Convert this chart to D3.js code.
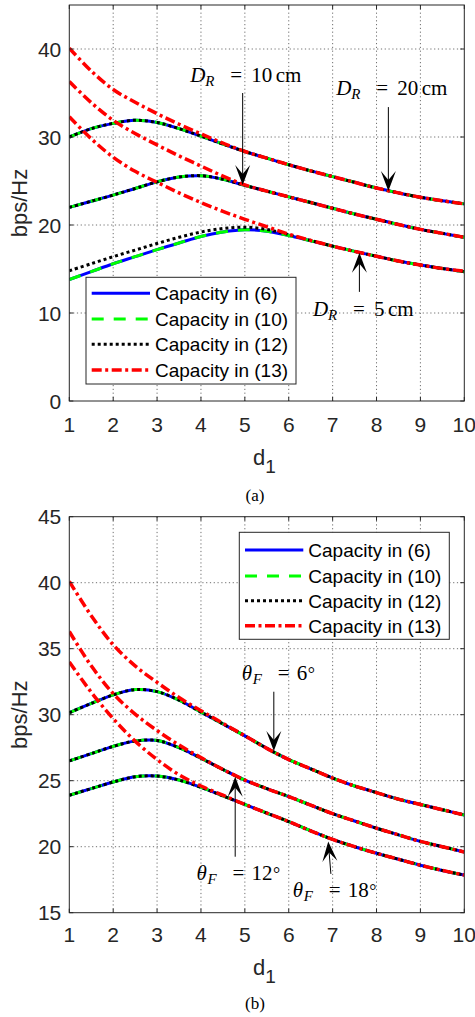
<!DOCTYPE html>
<html>
<head>
<meta charset="utf-8">
<script src="https://cdn.jsdelivr.net/npm/d3@7"></script>
<style>
  html, body { margin: 0; padding: 0; background: #fff; }
  svg { display: block; }
</style>
</head>
<body>
<svg id="fig" width="475" height="1017"></svg>
<script>
// ---- data ---------------------------------------------------------------
const d1 = [1, 1.5, 2, 2.5, 3, 3.5, 4, 4.5, 5, 5.5, 6, 6.5, 7, 7.5, 8, 8.5, 9, 9.5, 10];
const xTickValues = [1, 2, 3, 4, 5, 6, 7, 8, 9, 10];
const yTickValuesA = [0, 10, 20, 30, 40];
const yTickValuesB = [15, 20, 25, 30, 35, 40, 45];
const legendLabels = ["Capacity in (6)", "Capacity in (10)", "Capacity in (12)", "Capacity in (13)"];

// (a) varying D_R : 20 cm, 10 cm, 5 cm
const capA_DR20 = [30.0, 30.95, 31.55, 31.9, 31.65, 30.95, 30.1, 29.2, 28.35, 27.6, 26.85, 26.15, 25.5, 24.85, 24.2, 23.65, 23.15, 22.75, 22.4];
const capA_DR10 = [22.0, 22.7, 23.4, 24.15, 24.9, 25.45, 25.6, 25.2, 24.5, 23.85, 23.2, 22.55, 21.9, 21.25, 20.65, 20.05, 19.5, 19.05, 18.6];
const capA_DR5  = [13.8, 14.7, 15.6, 16.4, 17.2, 17.95, 18.7, 19.2, 19.45, 19.3, 18.8, 18.2, 17.6, 17.0, 16.45, 15.9, 15.45, 15.05, 14.7];
const cap12A_DR5 = [14.8, 15.6, 16.4, 17.15, 17.9, 18.6, 19.2, 19.6, 19.75, 19.5, 18.9, 18.25, 17.6, 17.0, 16.45, 15.9, 15.45, 15.05, 14.7];
const cap13A_DR20 = [40.1, 37.5, 35.4, 33.95, 32.65, 31.45, 30.35, 29.3, 28.35, 27.6, 26.85, 26.15, 25.5, 24.85, 24.2, 23.65, 23.15, 22.75, 22.4];
const cap13A_DR10 = [36.3, 33.9, 31.9, 30.4, 29.1, 27.85, 26.7, 25.55, 24.55, 23.85, 23.2, 22.55, 21.9, 21.25, 20.65, 20.05, 19.5, 19.05, 18.6];
const cap13A_DR5  = [32.3, 29.8, 27.7, 26.1, 24.85, 23.65, 22.55, 21.55, 20.65, 19.8, 18.95, 18.25, 17.6, 17.0, 16.45, 15.9, 15.45, 15.05, 14.75];

// (b) varying theta_F : 6, 12, 18 degrees
const capB_T6  = [30.15, 30.85, 31.5, 31.9, 31.75, 31.1, 30.2, 29.3, 28.4, 27.45, 26.6, 25.9, 25.2, 24.6, 24.1, 23.6, 23.2, 22.8, 22.4];
const capB_T12 = [26.5, 27.05, 27.6, 28.0, 28.05, 27.5, 26.7, 25.85, 25.05, 24.4, 23.8, 23.15, 22.5, 21.95, 21.4, 20.9, 20.4, 20.0, 19.6];
const capB_T18 = [23.9, 24.4, 24.9, 25.3, 25.35, 25.05, 24.5, 23.85, 23.2, 22.55, 21.9, 21.2, 20.55, 20.0, 19.5, 19.05, 18.6, 18.2, 17.85];
const cap13B_T6  = [40.1, 37.5, 35.3, 33.7, 32.45, 31.3, 30.3, 29.35, 28.4, 27.45, 26.6, 25.9, 25.2, 24.6, 24.1, 23.6, 23.2, 22.8, 22.4];
const cap13B_T12 = [36.3, 33.7, 31.6, 30.05, 28.8, 27.7, 26.75, 25.85, 25.05, 24.4, 23.8, 23.15, 22.5, 21.95, 21.4, 20.9, 20.4, 20.0, 19.6];
const cap13B_T18 = [34.0, 31.7, 29.7, 28.0, 26.6, 25.45, 24.6, 23.9, 23.2, 22.55, 21.9, 21.2, 20.55, 20.0, 19.5, 19.05, 18.6, 18.2, 17.85];

// ---- styles ---------------------------------------------------------------
const lineStyles = [
  { color: "#0000ff", width: 3,   dash: null },           // (6)  solid
  { color: "#00ff00", width: 3,   dash: "12,10" },        // (10) dashed
  { color: "#000000", width: 3,   dash: "3,3" },          // (12) dotted
  { color: "#ff0000", width: 3.5, dash: "10,3.5,3,3.5" }  // (13) dash-dot
];
const axisColor = "#262626";
const sans = "'Liberation Sans', Arial, Helvetica, sans-serif";
const serif = "'Liberation Serif', 'Times New Roman', serif";

const plotLeft = 69.3, plotRight = 464.3;
const x = d3.scaleLinear().domain([1, 10]).range([plotLeft, plotRight]);

const panels = [
  {
    id: "a", top: 5, bottom: 401, yDomain: [0, 45], yTicks: yTickValuesA,
    // each group lists curves for (6), (10), (12), (13)
    groups: [
      [capA_DR20, capA_DR20, capA_DR20, cap13A_DR20],
      [capA_DR10, capA_DR10, capA_DR10, cap13A_DR10],
      [capA_DR5,  capA_DR5,  cap12A_DR5, cap13A_DR5]
    ],
    legend: { x0: 86, y0: 277.3, x1: 296, y1: 384, rows: [293.3, 319, 344.3, 370], lx0: 91.7, lx1: 150, tx: 155 },
    notes: [
      { sym: "D", sub: "R", val: "10", unit: "cm", tx: 3.755, ty: 36.3, tail: [4.95, 35.0], tip: [4.95, 24.55] },
      { sym: "D", sub: "R", val: "20", unit: "cm", tx: 7.08,  ty: 34.8, tail: [8.27, 33.4], tip: [8.27, 23.85] },
      { sym: "D", sub: "R", val: "5",  unit: "cm", tx: 6.55,  ty: 9.7,  tail: [7.61, 12.4], tip: [7.61, 16.85] }
    ],
    caption: "(a)", captionY: 501, xlabY: 465, xtickY: 432
  },
  {
    id: "b", top: 516.7, bottom: 912.7, yDomain: [15, 45], yTicks: yTickValuesB,
    groups: [
      [capB_T6,  capB_T6,  capB_T6,  cap13B_T6],
      [capB_T12, capB_T12, capB_T12, cap13B_T12],
      [capB_T18, capB_T18, capB_T18, cap13B_T18]
    ],
    legend: { x0: 239.3, y0: 532.3, x1: 449.3, y1: 639.3, rows: [550, 576, 600.7, 625.7], lx0: 245, lx1: 303.3, tx: 308.3 },
    notes: [
      { sym: "θ", sub: "F", val: "6",  unit: "°", tx: 4.93, ty: 32.65, tail: [5.66, 31.74], tip: [5.66, 27.25] },
      { sym: "θ", sub: "F", val: "12", unit: "°", tx: 3.90, ty: 17.48, tail: [4.78, 19.24], tip: [4.78, 25.3] },
      { sym: "θ", sub: "F", val: "18", unit: "°", tx: 6.09, ty: 16.2,  tail: [6.96, 17.94], tip: [6.9, 20.4] }
    ],
    caption: "(b)", captionY: 1009, xlabY: 975, xtickY: 942
  }
];

const svg = d3.select("#fig");
svg.append("rect").attr("width", 475).attr("height", 1017).attr("fill", "#fff");

function drawArrow(g, x0, y0, x1, y1) {
  const L = 20, hw = 7.5, notch = 11;
  const ang = Math.atan2(y1 - y0, x1 - x0);
  const nx = x1 - notch * Math.cos(ang), ny = y1 - notch * Math.sin(ang);
  g.append("line").attr("x1", x0).attr("y1", y0).attr("x2", nx).attr("y2", ny)
    .attr("stroke", "#000").attr("stroke-width", 1);
  g.append("path")
    .attr("d", `M0,0 L${-L},${-hw} L${-notch},0 L${-L},${hw} Z`)
    .attr("transform", `translate(${x1},${y1}) rotate(${ang * 180 / Math.PI})`)
    .attr("fill", "#000");
}

function drawNote(g, y, n) {
  const left = x(n.tx), base = y(n.ty);
  const isD = n.sym === "D";
  const t = g.append("text").attr("font-family", serif).attr("font-size", 21).attr("fill", "#000")
    .attr("y", base).style("white-space", "pre");
  const digitsW = n.val.length * 10.5;
  t.append("tspan").attr("x", left).attr("font-style", "italic").text(n.sym);
  t.append("tspan").attr("x", left + (isD ? 15 : 11)).attr("y", base + 4)
    .attr("font-style", "italic").attr("font-size", 15).text(n.sub);
  t.append("tspan").attr("x", left + (isD ? 40 : 36)).attr("y", base).text("=");
  const valX = left + (isD ? 61 : 55);
  t.append("tspan").attr("x", valX).attr("y", base).text(n.val);
  if (n.unit === "cm") {
    t.append("tspan").attr("x", valX + digitsW + 3.5).attr("y", base).text("cm");
  } else {
    t.append("tspan").attr("x", valX + digitsW + 0.5).attr("y", base).attr("font-size", 18).text("°");
  }
  drawArrow(g, x(n.tail[0]), y(n.tail[1]), x(n.tip[0]), y(n.tip[1]));
}

panels.forEach(p => {
  const y = d3.scaleLinear().domain(p.yDomain).range([p.bottom, p.top]);
  const g = svg.append("g").attr("class", "panel-" + p.id);

  // grid
  const grid = g.append("g").attr("stroke", "#3a3a3a").attr("stroke-width", 0.9)
    .attr("stroke-dasharray", "1.2,2.6").attr("opacity", 0.8);
  xTickValues.slice(1, -1).forEach(v => grid.append("line")
    .attr("x1", x(v)).attr("x2", x(v)).attr("y1", p.top).attr("y2", p.bottom));
  p.yTicks.filter(v => v > p.yDomain[0] && v < p.yDomain[1]).forEach(v => grid.append("line")
    .attr("x1", plotLeft).attr("x2", plotRight).attr("y1", y(v)).attr("y2", y(v)));

  // curves
  const clipId = "clip-" + p.id;
  svg.append("defs").append("clipPath").attr("id", clipId).append("rect")
    .attr("x", plotLeft).attr("y", p.top).attr("width", plotRight - plotLeft).attr("height", p.bottom - p.top);
  const line = d3.line().x((d, i) => x(d1[i])).y(d => y(d)).curve(d3.curveCatmullRom.alpha(0.5));
  const curves = g.append("g").attr("clip-path", `url(#${clipId})`);
  for (let s = 0; s < 4; s++) {
    p.groups.forEach(grp => {
      const st = lineStyles[s];
      curves.append("path").attr("d", line(grp[s])).attr("fill", "none")
        .attr("stroke", st.color).attr("stroke-width", st.width)
        .attr("stroke-dasharray", st.dash).attr("stroke-linecap", "butt").attr("stroke-linejoin", "round");
    });
  }

  // frame and ticks
  g.append("rect").attr("x", plotLeft).attr("y", p.top).attr("width", plotRight - plotLeft)
    .attr("height", p.bottom - p.top).attr("fill", "none").attr("stroke", axisColor).attr("stroke-width", 1);
  const tl = 4;
  const ticks = g.append("g").attr("stroke", axisColor).attr("stroke-width", 1);
  xTickValues.forEach(v => {
    ticks.append("line").attr("x1", x(v)).attr("x2", x(v)).attr("y1", p.bottom).attr("y2", p.bottom - tl);
    ticks.append("line").attr("x1", x(v)).attr("x2", x(v)).attr("y1", p.top).attr("y2", p.top + tl);
  });
  p.yTicks.forEach(v => {
    ticks.append("line").attr("x1", plotLeft).attr("x2", plotLeft + tl).attr("y1", y(v)).attr("y2", y(v));
    ticks.append("line").attr("x1", plotRight).attr("x2", plotRight - tl).attr("y1", y(v)).attr("y2", y(v));
  });

  // tick labels
  const lab = g.append("g").attr("font-family", sans).attr("font-size", 21).attr("fill", axisColor);
  xTickValues.forEach(v => lab.append("text").attr("x", x(v)).attr("y", p.xtickY)
    .attr("text-anchor", "middle").text(v));
  p.yTicks.forEach(v => lab.append("text").attr("x", plotLeft - 8).attr("y", y(v) + 7.5)
    .attr("text-anchor", "end").text(v));

  // axis labels
  const xl = g.append("text").attr("font-family", sans).attr("font-size", 22).attr("fill", axisColor)
    .attr("x", 253).attr("y", p.xlabY);
  xl.append("tspan").text("d");
  xl.append("tspan").attr("dy", 8).attr("font-size", 19).text("1");
  const cy = (p.top + p.bottom) / 2;
  g.append("text").attr("font-family", sans).attr("font-size", 22).attr("fill", axisColor)
    .attr("text-anchor", "middle").attr("transform", `translate(27,${cy}) rotate(-90)`).text("bps/Hz");

  // caption
  g.append("text").attr("font-family", serif).attr("font-size", 17).attr("fill", "#000")
    .attr("x", 255).attr("y", p.captionY).attr("text-anchor", "middle").text(p.caption);

  // legend
  const L = p.legend;
  const lg = g.append("g");
  lg.append("rect").attr("x", L.x0).attr("y", L.y0).attr("width", L.x1 - L.x0).attr("height", L.y1 - L.y0)
    .attr("fill", "#fff").attr("stroke", axisColor).attr("stroke-width", 1);
  legendLabels.forEach((t, i) => {
    const st = lineStyles[i];
    lg.append("line").attr("x1", L.lx0).attr("x2", L.lx1).attr("y1", L.rows[i]).attr("y2", L.rows[i])
      .attr("stroke", st.color).attr("stroke-width", st.width).attr("stroke-dasharray", st.dash);
    lg.append("text").attr("x", L.tx).attr("y", L.rows[i] + 7).attr("font-family", sans)
      .attr("font-size", 19).attr("fill", "#000").text(t);
  });

  // annotations
  const ng = g.append("g");
  p.notes.forEach(n => drawNote(ng, y, n));
});
</script>
</body>
</html>
